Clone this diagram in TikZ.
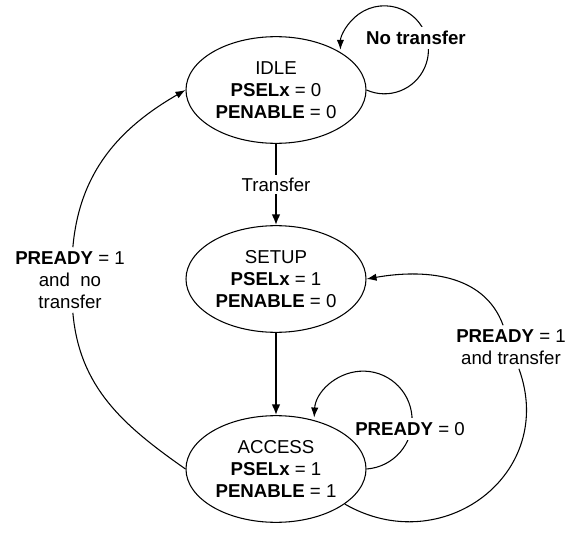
\documentclass[tikz,border=0pt]{standalone}
\usepackage{fontspec}
\setmainfont{Liberation Sans}
\usetikzlibrary{shapes.geometric,arrows.meta}
\tikzset{
    state/.style={ellipse, draw, line width=0.8pt, minimum width=135pt, minimum height=80pt,
        inner sep=0pt, align=center, font=\fontsize{14}{16.5}\selectfont},
    lbl/.style={fill=white, inner xsep=1.5pt, inner ysep=3pt, align=center,
        font=\fontsize{14}{16.5}\selectfont},
    conn/.style={line width=0.8pt, -{Latex[length=7.5pt,width=5.5pt]}},
    plain/.style={line width=0.8pt},
    main/.style={line width=1.5pt, -{Latex[length=8pt,width=6.5pt]}}
}
\begin{document}
\begin{tikzpicture}[x=0.75pt, y=0.75pt]
    \useasboundingbox (0, 0) rectangle (576, -539);
    \node[state] at (276, -90) (IDLE) {IDLE\\\textbf{PSELx} = 0\\\textbf{PENABLE} = 0};
    \node[state] at (276, -279) (SETUP) {SETUP\\\textbf{PSELx} = 1\\\textbf{PENABLE} = 0};
    \node[state] at (276, -469) (ACCESS) {ACCESS\\\textbf{PSELx} = 1\\\textbf{PENABLE} = 1};

    % self loops, labels laid over them
    \draw[conn] (IDLE.east) arc[start angle=246, end angle=540, radius=44];
    \draw[conn] (ACCESS.east) arc[start angle=274, end angle=537, radius=49];
    \node[lbl] at (416, -38) (notrans) {\textbf{No transfer}};
    \node[lbl] at (410, -429) (wait) {\textbf{PREADY} = 0};

    \node[lbl] at (511, -347) (again) {\textbf{PREADY} = 1\\and transfer};
    \node[lbl] at (70, -280) (back) {\textbf{PREADY} = 1\\and~ no\\transfer};

    \path[main]
        (IDLE) edge node[lbl, inner ysep=2pt] {Transfer} (SETUP)
        (SETUP) edge (ACCESS);
    % long returns
    \draw[plain] (ACCESS.-27) to[out=-30, in=-70, looseness=1.3] (again);
    \draw[conn] (again) to[out=110, in=10] (SETUP.east);
    \draw[plain] (ACCESS.west) to[out=145, in=-85] (back);
    \draw[conn] (back) to[out=85, in=-150] (IDLE.west);
\end{tikzpicture}
\end{document}
